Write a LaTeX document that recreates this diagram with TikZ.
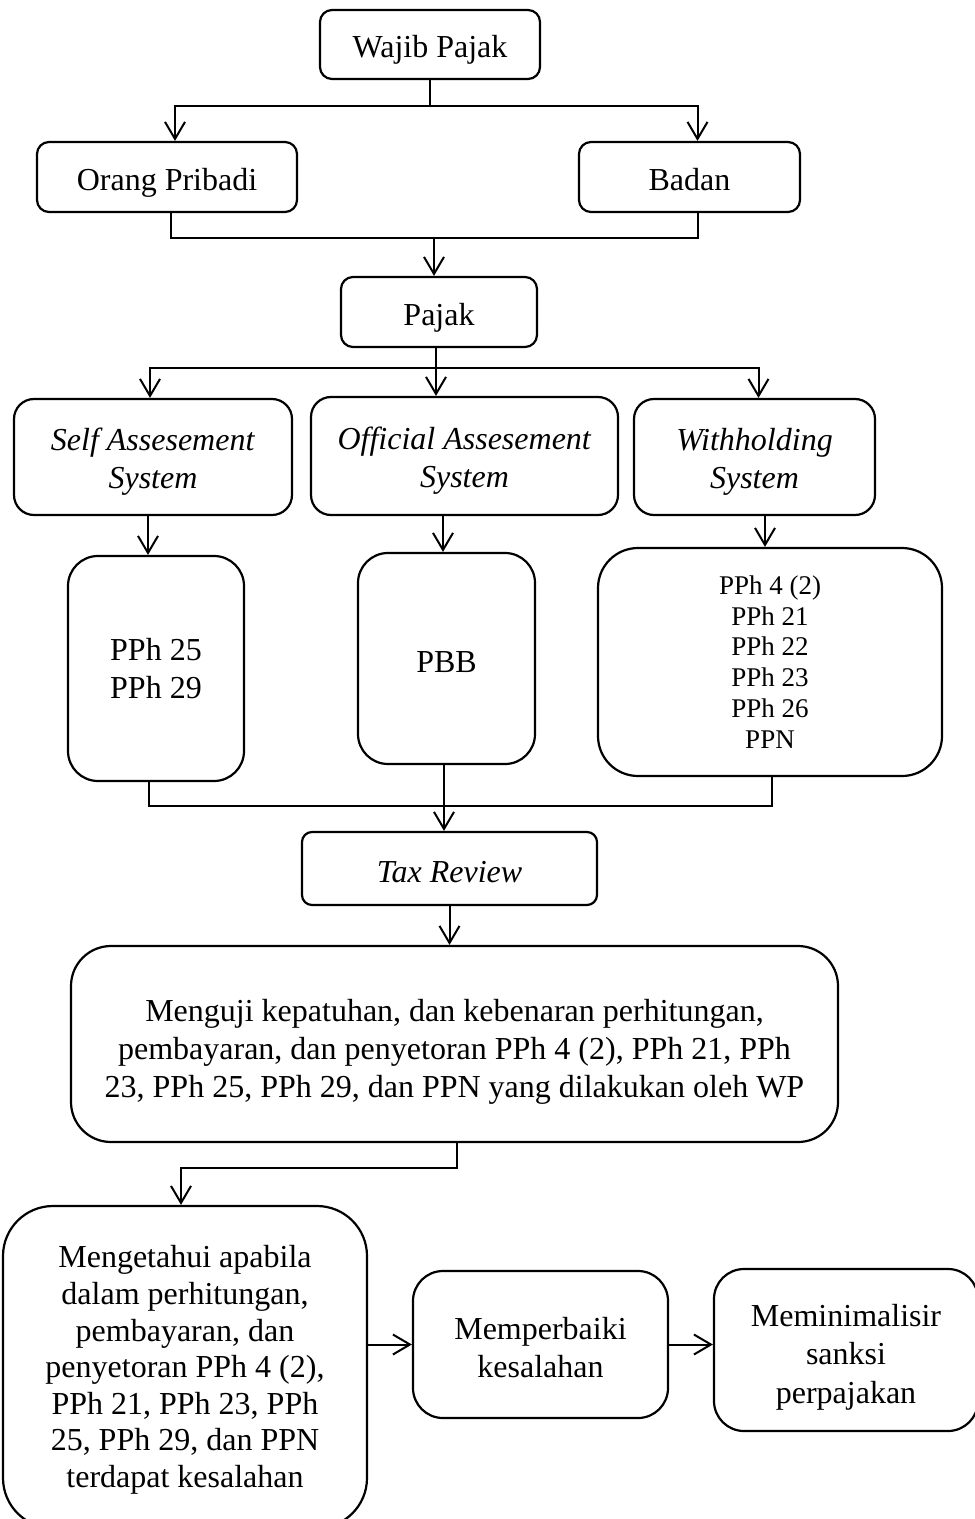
\documentclass[tikz,border=0pt]{standalone}
\usepackage{fontspec}
\setmainfont{Liberation Serif}
\usetikzlibrary{arrows.meta, positioning}
\newcommand{\topgap}[1]{\rule{0pt}{#1}}

\begin{document}
\begin{tikzpicture}[x=0.5pt, y=-0.5pt,
    box/.style={draw, line width=1.1pt, rounded corners=6pt, align=center, inner sep=0pt,
        font=\fontsize{16}{19.2}\selectfont},
    oneline/.style={text height=13.5pt, text depth=0pt},
    link/.style={line width=1pt},
    arr/.style={line width=1pt, -{Straight Barb[length=8.5pt, width=10pt]}}]
    \useasboundingbox (0,0) rectangle (974,1519);

    % Top levels
    \node[box, oneline, minimum width=110pt, minimum height=34.5pt] (wajib) at (430,44.5) {Wajib Pajak};
    \node[box, oneline, minimum width=130pt, minimum height=35pt] (orang) at (167,177) {Orang Pribadi};
    \node[box, oneline, minimum width=110.5pt, minimum height=35pt] (badan) at (689.5,177) {Badan};
    \node[box, oneline, minimum width=98pt, minimum height=35pt] (pajak) at (439,312) {Pajak};

    % Systems
    \node[box, rounded corners=10pt, minimum width=139pt, minimum height=58pt] (self) at (153,457) {\topgap{16pt}\textit{Self Assesement}\\\textit{System}};
    \node[box, rounded corners=10pt, minimum width=153.5pt, minimum height=59pt] (official) at (464.5,456) {\topgap{16pt}\textit{Official Assesement}\\\textit{System}};
    \node[box, rounded corners=10pt, minimum width=120.5pt, minimum height=58pt] (withhold) at (754.5,457) {\topgap{16pt}\textit{Withholding}\\\textit{System}};

    % Tax types
    \node[box, rounded corners=15pt, minimum width=88pt, minimum height=112.5pt] (pph) at (156,668.5) {PPh 25\\PPh 29};
    \node[box, oneline, rounded corners=15pt, minimum width=88.5pt, minimum height=105.5pt] (pbb) at (446.5,658.5) {PBB};
    \node[box, rounded corners=20pt, minimum width=172pt, minimum height=114pt,
        font=\fontsize{13.5}{15.4}\selectfont] (wlist) at (770,662) {PPh 4 (2)\\PPh 21\\PPh 22\\PPh 23\\PPh 26\\PPN};

    % Review
    \node[box, oneline, rounded corners=5pt, minimum width=147.5pt, minimum height=36.5pt] (review) at (449.5,868.5) {\textit{Tax Review}};
    \node[box, rounded corners=20pt, minimum width=383.5pt, minimum height=98pt] (uji) at (454.5,1044)
        {\topgap{19pt}Menguji kepatuhan, dan kebenaran perhitungan,\\pembayaran, dan penyetoran PPh 4 (2), PPh 21, PPh\\23, PPh 25, PPh 29, dan PPN yang dilakukan oleh WP};

    % Outcomes
    \node[box, rounded corners=25pt, minimum width=182pt, minimum height=161pt,
        font=\fontsize{16}{18.3}\selectfont] (tahu) at (185,1367)
        {\topgap{14pt}Mengetahui apabila\\dalam perhitungan,\\pembayaran, dan\\penyetoran PPh 4 (2),\\PPh 21, PPh 23, PPh\\25, PPh 29, dan PPN\\terdapat kesalahan};
    \node[box, rounded corners=15pt, minimum width=127.5pt, minimum height=73.5pt] (baiki) at (540.5,1344.5) {\topgap{14pt}Memperbaiki\\kesalahan};
    \node[box, rounded corners=15pt, minimum width=132pt, minimum height=81pt] (minim) at (846,1350) {\topgap{18pt}Meminimalisir\\sanksi\\perpajakan};

    % Connectors
    \draw[link] (wajib.south) -- (430,106) coordinate (j1);
    \draw[arr] (j1) -| ([xshift=4pt]orang.north);
    \draw[arr] (j1) -| ([xshift=4pt]badan.north);
    \draw[link] ([xshift=2pt]orang.south) |- (434,238) coordinate (j2);
    \draw[link] ([xshift=4pt]badan.south) |- (j2);
    \draw[arr] (j2) -- (j2 |- pajak.north);
    \draw[link] ([xshift=-1.5pt]pajak.south) -- (436,368) coordinate (j3);
    \draw[arr] (j3) -| ([xshift=-1.5pt]self.north);
    \draw[arr] (j3) -- (j3 |- official.north);
    \draw[arr] (j3) -| ([xshift=2pt]withhold.north);
    \draw[arr] ([xshift=-2.5pt]self.south) -- ([xshift=-4pt]pph.north);
    \draw[arr] ([xshift=-1.75pt]pbb.north |- official.south) -- ([xshift=-1.75pt]pbb.north);
    \draw[arr] ([xshift=-2.5pt]wlist.north |- withhold.south) -- ([xshift=-2.5pt]wlist.north);
    \draw[link] ([xshift=-3.5pt]pph.south) |- (444,806) coordinate (j4);
    \draw[link] ([xshift=1pt]wlist.south) |- (j4);
    \draw[arr] ([xshift=-1.25pt]pbb.south) -- ([xshift=-1.25pt]pbb.south |- review.north);
    \draw[arr] (review.south) -- (review.south |- uji.north);
    \draw[arr] ([xshift=1.25pt]uji.south) -- ++(0,25) -| ([xshift=-2pt]tahu.north);
    \draw[arr] (baiki.west -| tahu.east) -- (baiki.west);
    \draw[arr] (baiki.east) -- (baiki.east -| minim.west);
\end{tikzpicture}
\end{document}
